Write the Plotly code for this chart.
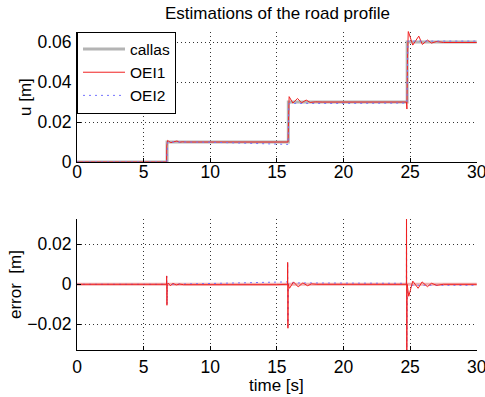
import plotly.graph_objects as go

# ---- road profile (reference "callas") ----
callas_t = [0, 6.76, 6.76, 15.86, 15.86, 24.78, 24.78, 30]
callas_u = [0, 0, 0.01, 0.01, 0.03, 0.03, 0.06, 0.06]

# ---- estimator OEI1 ----
oei1_t = [0, 6.72, 6.74, 6.80, 6.88, 7.05, 7.25, 7.50, 7.70, 7.90, 8.20, 8.60,
          15.82, 15.84, 15.92, 16.20, 16.55, 16.85, 17.20, 17.50, 17.90, 18.40,
          24.72, 24.76, 24.80, 24.86, 25.20, 25.65, 25.92, 26.30, 26.60, 27.00, 27.50, 30]
oei1_u = [0, 0, 0.0080, 0.0108, 0.0104, 0.0097, 0.0101, 0.0105, 0.0099, 0.0101, 0.0100, 0.0100,
          0.0100, 0.0100, 0.0327, 0.0295, 0.0318, 0.0296, 0.0310, 0.0298, 0.0301, 0.0300,
          0.0300, 0.0265, 0.0500, 0.0655, 0.0585, 0.0630, 0.0588, 0.0610, 0.0595, 0.0603, 0.0598, 0.0598]

# ---- estimator OEI2 ----
oei2_t = [0, 6.74, 6.80, 7.00, 10.0, 12.5, 15.84, 15.90, 16.20, 20.0, 24.76, 24.84, 25.50, 30]
oei2_u = [0, 0, 0.0098, 0.0100, 0.0099, 0.0095, 0.0088, 0.0292, 0.0293, 0.0293, 0.0295, 0.0605, 0.0605, 0.0605]

# ---- estimation errors ----
err1_t = [0, 6.72, 6.73, 6.75, 6.77, 6.85, 7.00, 7.20, 7.45, 7.70, 8.00, 15.0,
          15.80, 15.81, 15.83, 15.85, 15.95, 16.25, 16.60, 16.95, 17.30, 17.60, 18.0,
          24.72, 24.73, 24.75, 24.78, 24.90, 25.20, 25.60, 25.90, 26.30, 26.60, 27.00, 27.50, 30]
err1 = [0, 0, 0.0042, -0.0105, 0, 0.0006, -0.0007, 0.0004, -0.0003, 0.0001, -0.0002, -0.0002,
        0, 0.011, -0.022, 0, -0.0020, 0.0012, -0.0013, 0.0007, -0.0007, 0.0002, 0,
        0, 0.040, -0.040, 0, -0.0060, 0.0016, -0.0020, 0.0012, -0.0012, 0.0005, -0.0005, 0, 0]

err2_t = [0, 6.73, 6.74, 6.76, 6.80, 7.0, 10.0, 12.5, 15.80, 15.81, 15.83, 15.86, 16.2, 20.0,
          24.72, 24.73, 24.75, 24.80, 25.5, 30]
err2 = [0, 0, 0.0040, -0.0100, 0, 0, 0.0003, 0.0008, 0.0012, 0.011, -0.021, 0.0007, 0.0007, 0.0007,
        0.0005, 0.035, -0.035, -0.0005, -0.0005, -0.0005]
zero_t = [0, 30]
zero_e = [0, 0]

x_ticks = [0, 5, 10, 15, 20, 25, 30]
u_ticks = [0, 0.02, 0.04, 0.06]
u_ticktext = ["0", "0.02", "0.04", "0.06"]
e_ticks = [-0.02, 0, 0.02]
e_ticktext = ["\u22120.02", "0", "0.02"]

GRAY = "#b4b4b4"
RED = "#f02020"
BLUE = "#7474ff"
FONT = "Liberation Sans, Arial, sans-serif"
FS = 17.5
BLUE_DASH = "2px,4px"
GRID_DASH = "1px,3px"

fig = go.Figure()

fig.add_trace(go.Scatter(x=callas_t, y=callas_u, mode="lines", name="callas",
                         line=dict(color=GRAY, width=3), xaxis="x", yaxis="y"))
fig.add_trace(go.Scatter(x=oei1_t, y=oei1_u, mode="lines", name="OEI1",
                         line=dict(color=RED, width=1), xaxis="x", yaxis="y"))
fig.add_trace(go.Scatter(x=oei2_t, y=oei2_u, mode="lines", name="OEI2",
                         line=dict(color=BLUE, width=1, dash=BLUE_DASH),
                         xaxis="x", yaxis="y"))

fig.add_trace(go.Scatter(x=zero_t, y=zero_e, mode="lines", showlegend=False,
                         line=dict(color="#f0b0b0", width=3), xaxis="x2", yaxis="y2"))
fig.add_trace(go.Scatter(x=err2_t, y=err2, mode="lines", showlegend=False,
                         line=dict(color=BLUE, width=1, dash=BLUE_DASH),
                         xaxis="x2", yaxis="y2"))
fig.add_trace(go.Scatter(x=err1_t, y=err1, mode="lines", showlegend=False,
                         line=dict(color=RED, width=1), xaxis="x2", yaxis="y2"))

W, H = 485, 397
x0, x1 = 77 / W, 477 / W

common_x = dict(range=[0, 30.02], tickvals=x_ticks, ticks="inside", ticklen=4,
                tickcolor="black", showline=True, linecolor="black", linewidth=1,
                mirror=False, showgrid=True, gridcolor="#333", griddash=GRID_DASH,
                gridwidth=1, zeroline=False, automargin=False,
                ticklabeloverflow="allow",
                tickfont=dict(family=FONT, size=FS, color="black"),
                domain=[x0, x1])
common_y = dict(ticks="inside", ticklen=4, tickcolor="black", showline=True,
                linecolor="black", linewidth=1, mirror=False, showgrid=True,
                gridcolor="#333", griddash=GRID_DASH, gridwidth=1, zeroline=False,
                automargin=False, ticklabeloverflow="allow",
                tickfont=dict(family=FONT, size=FS, color="black"),
                ticklabelstandoff=1)


def label(text, px, py, angle=0):
    return dict(text=text, x=px / W, y=1 - py / H, xref="paper", yref="paper",
                xanchor="center", yanchor="middle", showarrow=False,
                textangle=angle, font=dict(family=FONT, size=17, color="black"))


fig.update_layout(
    width=W, height=H,
    margin=dict(l=0, r=0, t=0, b=0),
    paper_bgcolor="white", plot_bgcolor="white",
    font=dict(family=FONT, size=FS, color="black"),
    xaxis=dict(common_x, anchor="y", ticklabelstandoff=-6),
    yaxis=dict(common_y, range=[0, 0.0653], tickvals=u_ticks, ticktext=u_ticktext,
               domain=[1 - 162 / H, 1 - 31.5 / H], anchor="x"),
    xaxis2=dict(common_x, anchor="y2", ticklabelstandoff=1),
    yaxis2=dict(common_y, range=[-0.0329, 0.0327], tickvals=e_ticks, ticktext=e_ticktext,
                domain=[1 - 350 / H, 1 - 219 / H], anchor="x2"),
    showlegend=True,
    legend=dict(x=x0, y=1 - 31.5 / H, xanchor="left", yanchor="top",
                bgcolor="white", bordercolor="black", borderwidth=1,
                font=dict(family=FONT, size=15.5, color="black"),
                itemwidth=42, tracegroupgap=0),
    annotations=[
        label("Estimations of the road profile", 277, 13),
        label("u [m]", 25, 97, -90),
        label("error  [m]", 15, 285, -90),
        label("time [s]", 276, 385),
    ],
)

fig.write_html("out.html")
